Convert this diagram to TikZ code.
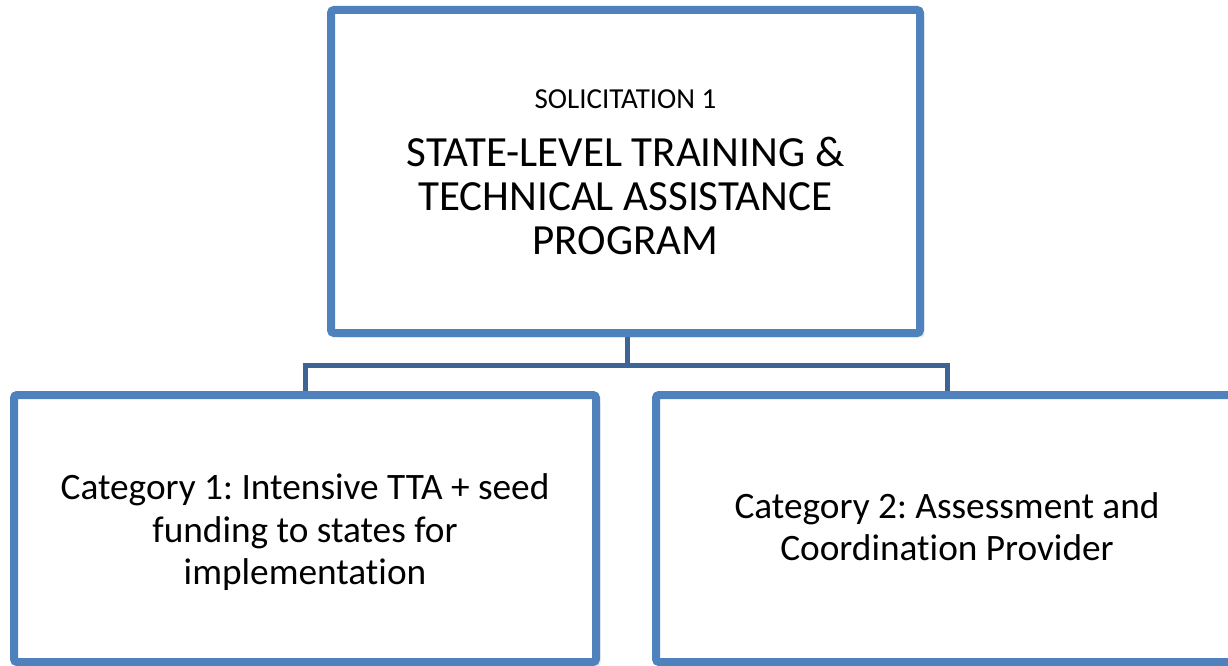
\documentclass[tikz,border=0pt]{standalone}
\usepackage{fontspec}
\setmainfont{Carlito}[Ligatures=NoCommon]
\usetikzlibrary{shadows}
\frenchspacing
\definecolor{boxblue}{HTML}{4F81BD}
\definecolor{linkblue}{HTML}{3E6497}
\begin{document}
\begin{tikzpicture}[x=1pt,y=-1pt,
  box/.style={draw=boxblue,line width=8pt,rounded corners=3pt,fill=white,inner sep=0pt,
    drop shadow={opacity=0.15,shadow xshift=4.5pt,shadow yshift=-4.5pt}},
  txt/.style={align=center,inner sep=0pt},
  link/.style={draw=linkblue,line width=5pt}]
\useasboundingbox (0,0) rectangle (1228,666);
\node[box,minimum width=589pt,minimum height=323pt] (top) at (625.5,171.5) {};
\node[txt,font=\fontsize{43}{44}\selectfont] (toptext) at ([yshift=-1pt]top.center)
  {{\fontsize{29}{30}\selectfont SOLICITATION 1}\\[14pt]
   STATE-LEVEL TRAINING \&\\TECHNICAL ASSISTANCE\\PROGRAM};
\node[box,minimum width=582pt,minimum height=267pt] (c1) at (305,528.5) {};
\node[txt,font=\fontsize{37.3}{42.5}\selectfont] (c1text) at ([yshift=-4pt]c1.center)
  {Category 1: Intensive TTA + seed\\funding to states for\\implementation};
\node[box,minimum width=582pt,minimum height=267pt] (c2) at (947,528.5) {};
\node[txt,font=\fontsize{37.3}{42.5}\selectfont] (c2text) at ([yshift=2pt]c2.center)
  {Category 2: Assessment and\\Coordination Provider};
\coordinate (mid) at (627,365);
\draw[link] (top.south -| mid) -- (mid);
\draw[link] (c1.north) |- (mid) -| (c2.north);
\end{tikzpicture}
\end{document}
